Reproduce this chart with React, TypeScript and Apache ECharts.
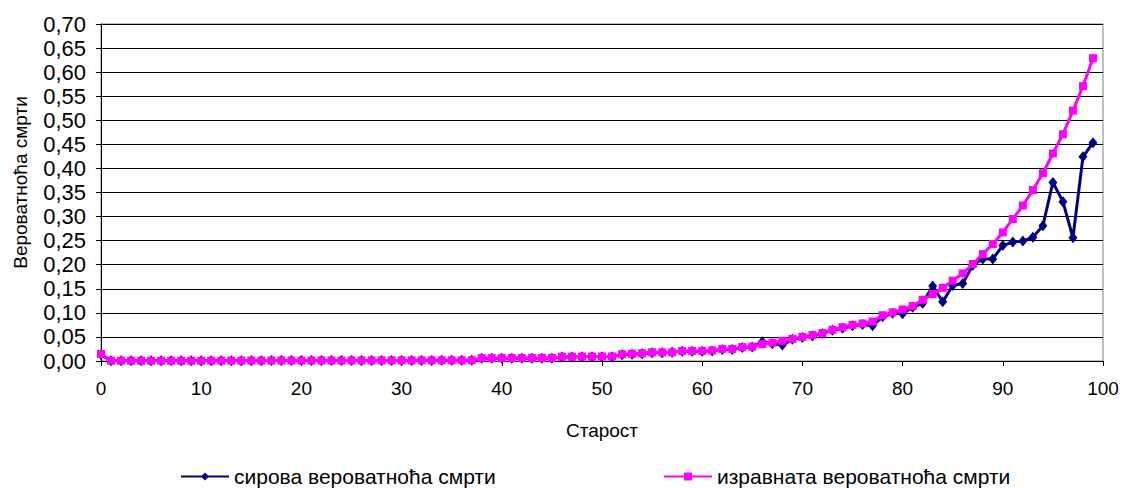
import React, { useEffect, useRef } from "react";
import * as echarts from "echarts";

const ages: number[] = Array.from({ length: 100 }, (_, i) => i);

const rawValues: number[] = [
  0.013,
  0.0006, 0.0005, 0.0005, 0.0004, 0.0004, 0.0004, 0.0004, 0.0004, 0.0004, 0.0004,
  0.0005, 0.0005, 0.0006, 0.0006, 0.0007, 0.0007, 0.0008, 0.0008, 0.0008, 0.0008,
  0.0008, 0.0009, 0.0009, 0.0009, 0.0010, 0.0010, 0.0010, 0.0011, 0.0011, 0.0011,
  0.0012, 0.0012, 0.0012, 0.0013, 0.0013, 0.0013, 0.0014,
  0.0055, 0.0055, 0.0056, 0.0056, 0.0057, 0.0057, 0.0058, 0.0058,
  0.0085, 0.0085, 0.0086, 0.0086, 0.0087, 0.0088,
  0.013, 0.014, 0.015, 0.017, 0.017, 0.018, 0.020, 0.020, 0.020, 0.021,
  0.024, 0.024, 0.028, 0.029,
  0.040, 0.036, 0.033, 0.045, 0.049, 0.052, 0.057, 0.064, 0.068, 0.073,
  0.076, 0.073, 0.092, 0.099, 0.098, 0.1115, 0.120, 0.156, 0.123, 0.157,
  0.161, 0.199, 0.212, 0.212, 0.240, 0.247, 0.249, 0.257, 0.281, 0.371,
  0.331, 0.256, 0.424, 0.4535,
];

const smoothValues: number[] = [
  0.0145,
  0.0007, 0.0006, 0.0006, 0.0005, 0.0005, 0.0005, 0.0005, 0.0005, 0.0005, 0.0005,
  0.0006, 0.0006, 0.0007, 0.0007, 0.0008, 0.0008, 0.0009, 0.0009, 0.0009, 0.0009,
  0.0009, 0.0010, 0.0010, 0.0010, 0.0011, 0.0011, 0.0011, 0.0012, 0.0012, 0.0012,
  0.0013, 0.0013, 0.0013, 0.0014, 0.0014, 0.0014, 0.0015,
  0.006, 0.006, 0.006, 0.0062, 0.0062, 0.0063, 0.0063, 0.0064,
  0.009, 0.009, 0.0092, 0.0092, 0.0093, 0.0094,
  0.014, 0.015, 0.016, 0.018, 0.018, 0.018, 0.021, 0.021, 0.021, 0.022,
  0.025, 0.025, 0.029, 0.030,
  0.035, 0.038, 0.042, 0.046, 0.050, 0.054, 0.058, 0.065, 0.070, 0.075,
  0.078, 0.082, 0.095, 0.101, 0.107, 0.114, 0.127, 0.139, 0.152, 0.167,
  0.182, 0.2015, 0.222, 0.243, 0.267, 0.295, 0.323, 0.355, 0.390, 0.431,
  0.471, 0.520, 0.571, 0.629,
];

const seriesNames: string[] = ["сирова вероватноћа смрти", "изравната вероватноћа смрти"];
const xAxisTitle = "Старост";
const yAxisTitle = "Вероватноћа смрти";

export default function App() {
  const ref = useRef<HTMLDivElement>(null);

  useEffect(() => {
    document.body.style.margin = "0";
    if (!ref.current) return;
    const chart = echarts.init(ref.current, null, { renderer: "svg" });
    const font = "Liberation Sans, Arial, sans-serif";
    chart.setOption({
      animation: false,
      backgroundColor: "#ffffff",
      textStyle: { fontFamily: font },
      grid: {
        left: 101,
        right: 20,
        top: 24,
        bottom: 128,
        show: true,
        borderColor: "#808080",
        borderWidth: 1,
        outerBoundsMode: "none",
        containLabel: false,
      },
      legend: [
        {
          data: [seriesNames[0]],
          left: 180,
          top: 466,
          padding: 0,
          itemWidth: 48,
          itemHeight: 10,
          textStyle: { fontSize: 21, color: "#000", fontFamily: font },
        },
        {
          data: [seriesNames[1]],
          left: 663,
          top: 466,
          padding: 0,
          itemWidth: 48,
          itemHeight: 10,
          textStyle: { fontSize: 21, color: "#000", fontFamily: font },
        },
      ],
      xAxis: {
        type: "value",
        min: 0,
        max: 100,
        interval: 10,
        name: xAxisTitle,
        nameLocation: "middle",
        nameGap: 60,
        nameTextStyle: { fontSize: 19, color: "#000", fontFamily: font },
        axisLine: { show: true, lineStyle: { color: "#000", width: 1 } },
        axisTick: { show: true, length: 5, lineStyle: { color: "#000" } },
        axisLabel: { fontSize: 19, color: "#000", margin: 18, fontFamily: font },
        splitLine: { show: false },
      },
      yAxis: {
        type: "value",
        min: 0,
        max: 0.7,
        interval: 0.05,
        name: yAxisTitle,
        nameLocation: "middle",
        nameGap: 71,
        nameRotate: 90,
        nameTextStyle: { fontSize: 19, color: "#000", fontFamily: font, padding: [0, 0, 0, 20] },
        axisLine: { show: true, lineStyle: { color: "#000", width: 1 } },
        axisTick: { show: true, length: 5, lineStyle: { color: "#000" } },
        axisLabel: {
          fontSize: 22,
          color: "#000",
          margin: 15,
          fontFamily: font,
          formatter: (v: number) => v.toFixed(2).replace(".", ","),
        },
        splitLine: { show: true, lineStyle: { color: "#000", width: 1 } },
      },
      series: [
        {
          name: seriesNames[0],
          type: "line",
          data: ages.map((a, i) => [a, rawValues[i]]),
          symbol: "diamond",
          symbolSize: [9, 11],
          lineStyle: { color: "#000080", width: 3 },
          itemStyle: { color: "#000080" },
          z: 2,
        },
        {
          name: seriesNames[1],
          type: "line",
          data: ages.map((a, i) => [a, smoothValues[i]]),
          symbol: "rect",
          symbolSize: 8,
          lineStyle: { color: "#FF00FF", width: 3 },
          itemStyle: { color: "#FF00FF" },
          z: 3,
        },
      ],
    });
    return () => chart.dispose();
  }, []);

  return <div ref={ref} style={{ width: 1123, height: 489 }} />;
}
